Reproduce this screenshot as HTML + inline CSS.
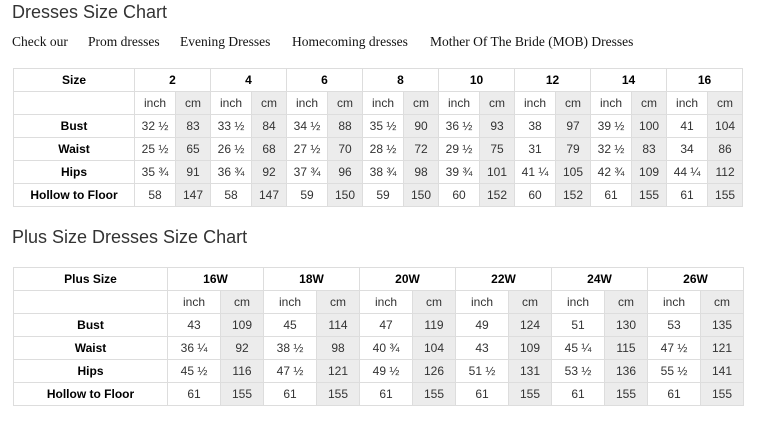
<!DOCTYPE html>
<html><head><meta charset="utf-8"><style>
body{margin:0;width:759px;height:421px;background:#fff;position:relative;overflow:hidden;font-family:"Liberation Sans",Arial,sans-serif}
h1{position:absolute;margin:0;font-weight:normal;font-size:18px;color:#333;left:12px}
.links{position:absolute;top:34px;left:0;font-family:"Liberation Serif",serif;font-size:13.5px;color:#111}
.links span{position:absolute;white-space:nowrap;top:0}
table{position:absolute;left:13px;border-collapse:collapse;table-layout:fixed;font-size:12px;color:#333}
td{border:1px solid #ddd;height:22px;padding:0;text-align:center;line-height:22px}
td.h{font-weight:bold;color:#000}
td.g{background:#ececec}
</style></head><body>
<h1 style="top:2px">Dresses Size Chart</h1>
<div class="links"><span style="left:12px">Check our</span><span style="left:88px">Prom dresses</span><span style="left:180px">Evening Dresses</span><span style="left:292px">Homecoming dresses</span><span style="left:430px">Mother Of The Bride (MOB) Dresses</span></div>
<table style="top:68px;width:729px">
<colgroup><col style="width:121px"><col span="1" style="width:41px"><col style="width:35px"><col style="width:41px"><col style="width:35px"><col style="width:41px"><col style="width:35px"><col style="width:41px"><col style="width:35px"><col style="width:41px"><col style="width:35px"><col style="width:41px"><col style="width:35px"><col style="width:41px"><col style="width:35px"><col style="width:41px"><col style="width:35px"></colgroup>
<tr><td class="h">Size</td><td class="h" colspan="2">2</td><td class="h" colspan="2">4</td><td class="h" colspan="2">6</td><td class="h" colspan="2">8</td><td class="h" colspan="2">10</td><td class="h" colspan="2">12</td><td class="h" colspan="2">14</td><td class="h" colspan="2">16</td></tr>
<tr><td></td><td>inch</td><td class="g">cm</td><td>inch</td><td class="g">cm</td><td>inch</td><td class="g">cm</td><td>inch</td><td class="g">cm</td><td>inch</td><td class="g">cm</td><td>inch</td><td class="g">cm</td><td>inch</td><td class="g">cm</td><td>inch</td><td class="g">cm</td></tr>
<tr><td class="h">Bust</td><td>32 ½</td><td class="g">83</td><td>33 ½</td><td class="g">84</td><td>34 ½</td><td class="g">88</td><td>35 ½</td><td class="g">90</td><td>36 ½</td><td class="g">93</td><td>38</td><td class="g">97</td><td>39 ½</td><td class="g">100</td><td>41</td><td class="g">104</td></tr>
<tr><td class="h">Waist</td><td>25 ½</td><td class="g">65</td><td>26 ½</td><td class="g">68</td><td>27 ½</td><td class="g">70</td><td>28 ½</td><td class="g">72</td><td>29 ½</td><td class="g">75</td><td>31</td><td class="g">79</td><td>32 ½</td><td class="g">83</td><td>34</td><td class="g">86</td></tr>
<tr><td class="h">Hips</td><td>35 ¾</td><td class="g">91</td><td>36 ¾</td><td class="g">92</td><td>37 ¾</td><td class="g">96</td><td>38 ¾</td><td class="g">98</td><td>39 ¾</td><td class="g">101</td><td>41 ¼</td><td class="g">105</td><td>42 ¾</td><td class="g">109</td><td>44 ¼</td><td class="g">112</td></tr>
<tr><td class="h">Hollow to Floor</td><td>58</td><td class="g">147</td><td>58</td><td class="g">147</td><td>59</td><td class="g">150</td><td>59</td><td class="g">150</td><td>60</td><td class="g">152</td><td>60</td><td class="g">152</td><td>61</td><td class="g">155</td><td>61</td><td class="g">155</td></tr>
</table>
<h1 style="top:227px">Plus Size Dresses Size Chart</h1>
<table style="top:267px;width:730px">
<colgroup><col style="width:154px"><col style="width:53px"><col style="width:43px"><col style="width:53px"><col style="width:43px"><col style="width:53px"><col style="width:43px"><col style="width:53px"><col style="width:43px"><col style="width:53px"><col style="width:43px"><col style="width:53px"><col style="width:43px"></colgroup>
<tr><td class="h">Plus Size</td><td class="h" colspan="2">16W</td><td class="h" colspan="2">18W</td><td class="h" colspan="2">20W</td><td class="h" colspan="2">22W</td><td class="h" colspan="2">24W</td><td class="h" colspan="2">26W</td></tr>
<tr><td></td><td>inch</td><td class="g">cm</td><td>inch</td><td class="g">cm</td><td>inch</td><td class="g">cm</td><td>inch</td><td class="g">cm</td><td>inch</td><td class="g">cm</td><td>inch</td><td class="g">cm</td></tr>
<tr><td class="h">Bust</td><td>43</td><td class="g">109</td><td>45</td><td class="g">114</td><td>47</td><td class="g">119</td><td>49</td><td class="g">124</td><td>51</td><td class="g">130</td><td>53</td><td class="g">135</td></tr>
<tr><td class="h">Waist</td><td>36 ¼</td><td class="g">92</td><td>38 ½</td><td class="g">98</td><td>40 ¾</td><td class="g">104</td><td>43</td><td class="g">109</td><td>45 ¼</td><td class="g">115</td><td>47 ½</td><td class="g">121</td></tr>
<tr><td class="h">Hips</td><td>45 ½</td><td class="g">116</td><td>47 ½</td><td class="g">121</td><td>49 ½</td><td class="g">126</td><td>51 ½</td><td class="g">131</td><td>53 ½</td><td class="g">136</td><td>55 ½</td><td class="g">141</td></tr>
<tr><td class="h">Hollow to Floor</td><td>61</td><td class="g">155</td><td>61</td><td class="g">155</td><td>61</td><td class="g">155</td><td>61</td><td class="g">155</td><td>61</td><td class="g">155</td><td>61</td><td class="g">155</td></tr>
</table>
</body></html>
